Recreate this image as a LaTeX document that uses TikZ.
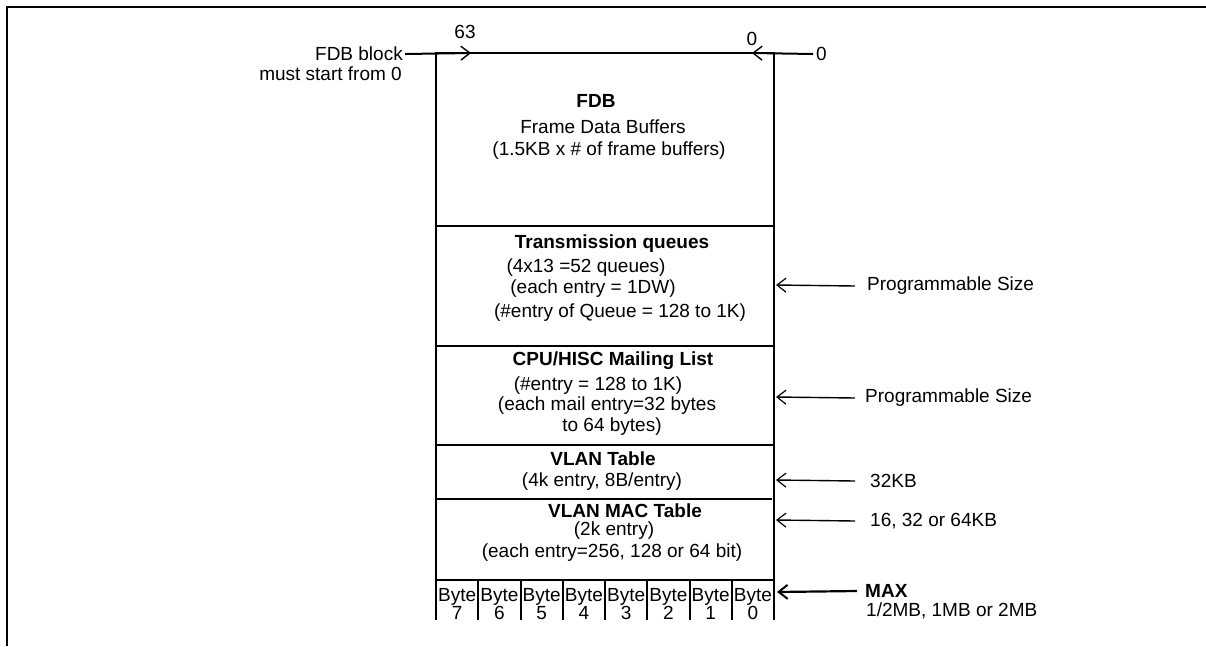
\documentclass[tikz,border=0pt]{standalone}
\usepackage{fontspec}
\setmainfont{Liberation Sans}
\usetikzlibrary{arrows.meta}
\begin{document}
\begin{tikzpicture}[x=1pt,y=-1pt,
  every node/.style={font=\fontsize{19}{21}\selectfont, inner sep=0pt},
  bld/.style={font=\fontsize{19}{21}\selectfont\bfseries},
  frame/.style={line width=2pt},
  boxline/.style={line width=2pt},
  arr/.style={line width=1.4pt, -{Straight Barb[length=9pt,width=14pt,line width=1.2pt]}},
  bigarr/.style={line width=2.2pt, -{Straight Barb[length=9pt,width=14pt,line width=2pt]}},
  lbl/.style={anchor=west, inner xsep=10pt},
  bytecell/.style={align=center, font=\fontsize{19}{20}\selectfont}]
\useasboundingbox (0,0) rectangle (1206,646);
% outer frame (left and top edges)
\draw[frame] (7,646) -- (7,7) -- (1206,7);

% memory box
\coordinate (tl) at (436,53);
\coordinate (tr) at (774,53);
\coordinate (bl) at (436,620);
\coordinate (br) at (774,620);
\draw[boxline] (bl) -- (tl) -- (tr) -- (br);
\draw[boxline] (436,226) -- (774,226);
\draw[boxline] (436,346) -- (774,346);
\draw[boxline] (436,445) -- (774,445);
\draw[boxline] (436,499) -- (772,499);
\draw[boxline] (436,580) -- (774,580);
\foreach \i in {1,...,7} {
  \draw[boxline] ({436+\i*42.25},580) -- ({436+\i*42.25},620);
}
\foreach \i/\b in {0/7,1/6,2/5,3/4,4/3,5/2,6/1,7/0} {
  \node[bytecell] (byte\b) at ({436+42.25*(\i+0.5)},604) {Byte\\[-2pt]\b};
}

% top labels and arrows
\node[anchor=east, inner xsep=2pt] (fdbA) at (405,54) {FDB block};
\node[anchor=east] (fdbB) at (402,74) {must start from 0};
\coordinate (a63) at (471,53);
\draw[line width=2pt, -{Straight Barb[length=9pt,width=14pt,line width=1.4pt]}] (fdbA.east) -- (a63);
\node (n63) at (465,32) {63};
\node (n0a) at (752,39) {0};
\node[anchor=west, inner xsep=3pt] (n0b) at (813,54) {0};
\coordinate (a0) at (752,53);
\draw[line width=2pt, -{Straight Barb[length=9pt,width=14pt,line width=1.4pt]}] (n0b.west) -- (a0);

% block texts
\node[bld] (fdbT) at (596,101) {FDB};
\node (fdb1) at (603,127) {Frame Data Buffers};
\node (fdb2) at (609,151) {(1.5KB x \# of frame buffers)};

\node[bld] (tqT) at (612,244) {Transmission queues};
\node (tq1) at (586,268) {(4x13 =52 queues)};
\node (tq2) at (593,289) {(each entry = 1DW)};
\node (tq3) at (620,313) {(\#entry of Queue = 128 to 1K)};

\node[bld] (cpuT) at (613,361) {CPU/HISC Mailing List};
\node (cpu1) at (598,386) {(\#entry = 128 to 1K)};
\node (cpu2) at (607,406) {(each mail entry=32 bytes};
\node (cpu3) at (612,427) {to 64 bytes)};

\node[bld] (vlT) at (603,459) {VLAN Table};
\node (vl1) at (602,482) {(4k entry, 8B/entry)};

\node[bld] (vmT) at (625,511) {VLAN MAC Table};
\node (vm1) at (614,531) {(2k entry)};
\node (vm2) at (612,553) {(each entry=256, 128 or 64 bit)};

% right side labels
\coordinate (r1) at (776,285);
\coordinate (r2) at (776,397);
\coordinate (r3) at (776,480);
\coordinate (r4) at (776,520);
\coordinate (r5) at (777,592);
\node[lbl, inner xsep=12pt] (ps1) at (855,286) {Programmable Size};
\node[lbl] (ps2) at (855,398) {Programmable Size};
\node[lbl, inner xsep=15pt] (k32) at (855,481) {32KB};
\node[lbl, inner xsep=15pt] (k64) at (855,521) {16, 32 or 64KB};
\draw[arr] (ps1.west) -- (r1);
\draw[arr] (ps2.west) -- (r2);
\draw[arr] (k32.west) -- (r3);
\draw[arr] (k64.west) -- (r4);
\node[bld, anchor=west, inner xsep=8pt] (max) at (857,591) {MAX};
\node[anchor=west] (maxs) at (866,611) {1/2MB, 1MB or 2MB};
\draw[bigarr] (max.west) -- (r5);
\end{tikzpicture}
\end{document}
